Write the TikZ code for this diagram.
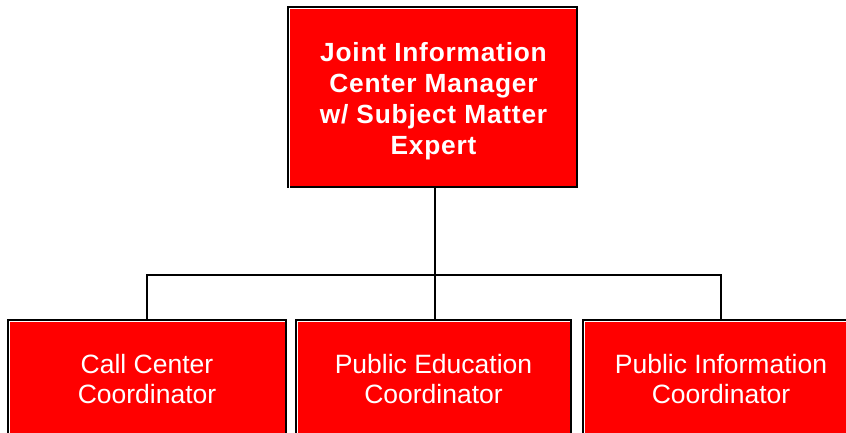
\documentclass[tikz,border=0pt]{standalone}
\usepackage{fontspec}
\setmainfont{Liberation Sans}
\newfontfamily\topfont[LetterSpace=3]{Liberation Sans}
\definecolor{boxred}{RGB}{255,0,0}
\tikzset{
  orgbox/.style={draw=black, fill=boxred, line width=2pt, inner sep=0pt,
    text=white, align=center},
  topbox/.style={orgbox, minimum width=289.5pt, minimum height=180pt},
  toptext/.style={text=white, align=center, inner sep=0pt,
    font=\topfont\bfseries\fontsize{26.3}{31}\selectfont},
  lowbox/.style={orgbox, minimum height=118pt,
    font=\fontsize{26.5}{30}\selectfont},
  link/.style={draw=black, line width=2pt},
  bevel/.style={draw=white, line width=1pt}
}
\newcommand{\bevelbox}[1]{%
  \draw[bevel] ([shift={(2.5pt,0pt)}]#1.south west) -- ([shift={(2.5pt,-2.5pt)}]#1.north west) -- ([shift={(-2pt,-2.5pt)}]#1.north east);}
\begin{document}
\begin{tikzpicture}[x=1pt,y=-1pt]
\useasboundingbox (0,0) rectangle (846,432);
\begin{scope}
\clip (0,0) rectangle (846,432);
\node[topbox] (top) at (432.3,97) {};
\node[lowbox, minimum width=278pt] (left) at (147,379) {Call Center\\Coordinator};
\node[lowbox, minimum width=275pt] (mid) at (433.5,379) {Public Education\\Coordinator};
\node[lowbox, minimum width=276pt] (right) at (721,379) {Public Information\\Coordinator};
\bevelbox{top}
\bevelbox{left}
\bevelbox{mid}
\bevelbox{right}
\node[toptext] (toplabel) at (433.5,101.5) {Joint Information\\Center Manager\\w/ Subject Matter\\Expert};
\coordinate (j) at (435,274.5);
\draw[link] (j |- top.south) -- (j);
\draw[link] (j) -- (j |- mid.north);
\draw[link] (left.north) -- (left.north |- j) -- (right.north |- j) -- (right.north);
\end{scope}
\end{tikzpicture}
\end{document}
